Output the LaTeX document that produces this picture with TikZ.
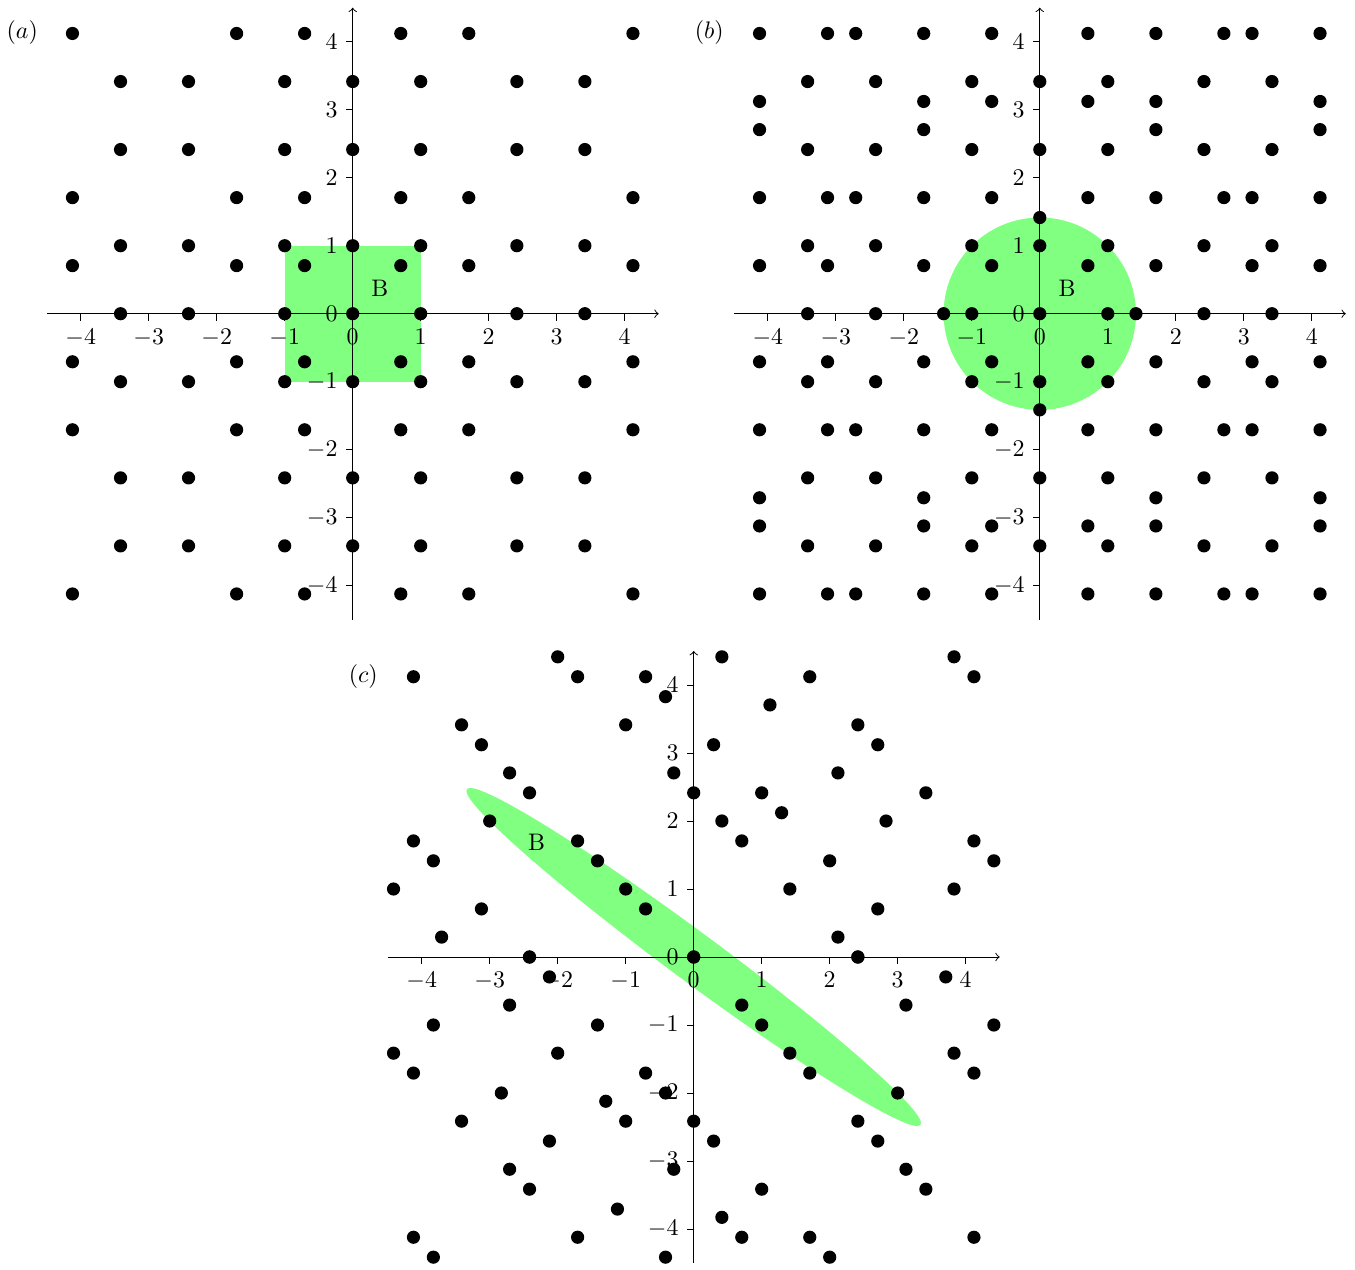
\documentclass[tikz,border=0pt]{standalone}
\begin{document}
\begin{tikzpicture}[
  dot/.style={fill=black},
  window/.style={fill=green!50},
  panellabel/.style={inner sep=0pt},
  wlabel/.style={inner sep=0pt}
]
\useasboundingbox (0,0) rectangle (19.9265,-18.6618);
\newcommand{\dotr}{0.097}
\newcommand{\myaxes}{%
  \draw[->] (-4.5,0) -- (4.5,0);
  \draw[->] (0,-4.5) -- (0,4.5);
  \foreach \t in {-4,...,4} {
    \draw (\t,0) -- (\t,-0.1) node[below] {$\t$};
    \draw (0,\t) -- (-0.1,\t) node[left] {$\t$};
  }%
}
% ---------------- panel (a)
\begin{scope}[shift={(5.1868,-4.6132)}]
  \fill[window] (-1,-1) rectangle (1,1);
  \myaxes
  \node[panellabel] (la) at (-4.86,4.13) {$(a)$};
  \node[wlabel] (Ba) at (0.40,0.38) {B};
  \foreach \x in {0,1,-1,2.41421,-2.41421,3.41421,-3.41421}
    \foreach \y in {0,1,-1,2.41421,-2.41421,3.41421,-3.41421}
      \fill[dot] (\x,\y) circle (\dotr);
  \foreach \x in {0.70711,-0.70711,1.70711,-1.70711,4.12132,-4.12132}
    \foreach \y in {0.70711,-0.70711,1.70711,-1.70711,4.12132,-4.12132}
      \fill[dot] (\x,\y) circle (\dotr);
\end{scope}
% ---------------- panel (b)
\begin{scope}[shift={(15.2912,-4.6132)}]
  \fill[window] (0,0) circle (1.41421);
  \myaxes
  \node[panellabel] (lb) at (-4.86,4.13) {$(b)$};
  \node[wlabel] (Bb) at (0.40,0.38) {B};
  \foreach \x in {0,1,-1,2.41421,-2.41421,3.41421,-3.41421}
    \foreach \y in {0,1,-1,2.41421,-2.41421,3.41421,-3.41421}
      \fill[dot] (\x,\y) circle (\dotr);
  \foreach \p in {(1.41421,0),(-1.41421,0),(0,1.41421),(0,-1.41421)}
    \fill[dot] \p circle (\dotr);
  \foreach \s in {1,-1} {
    \foreach \x in {0.70711,1.70711,2.70711,3.12132,4.12132} {
      \fill[dot] (\x,{\s*4.12132}) circle (\dotr);
      \fill[dot] ({-1*\x},{\s*4.12132}) circle (\dotr);
      \fill[dot] (\x,{\s*1.70711}) circle (\dotr);
      \fill[dot] ({-1*\x},{\s*1.70711}) circle (\dotr);
    }
    \foreach \x in {0.70711,1.70711,4.12132} {
      \fill[dot] (\x,{\s*3.12132}) circle (\dotr);
      \fill[dot] ({-1*\x},{\s*3.12132}) circle (\dotr);
    }
    \foreach \x in {1.70711,4.12132} {
      \fill[dot] (\x,{\s*2.70711}) circle (\dotr);
      \fill[dot] ({-1*\x},{\s*2.70711}) circle (\dotr);
    }
    \foreach \x in {0.70711,1.70711,3.12132,4.12132} {
      \fill[dot] (\x,{\s*0.70711}) circle (\dotr);
      \fill[dot] ({-1*\x},{\s*0.70711}) circle (\dotr);
    }
  }
\end{scope}
% ---------------- panel (c)
\begin{scope}[shift={(10.2015,-14.0735)}]
  \fill[window,rotate=-36.5] (0,0) ellipse (4.15 and 0.36);
  \myaxes
  \node[panellabel] (lc) at (-4.86,4.13) {$(c)$};
  \node[wlabel] (Bc) at (-2.31,1.68) {B};
  \foreach \x/\y in {
    -4.12132/4.12132, -2/4.41421, -1.70711/4.12132, -3.41421/3.41421,
    -3.12132/3.12132, -2.70711/2.70711, -2.41421/2.41421, -0.70711/4.12132,
    0.41421/4.41421, -0.41421/3.82843, -1/3.41421, 1.12132/3.70711,
    0.29289/3.12132, -0.29289/2.70711, 0/2.41421, 1/2.41421,
    1.70711/4.12132, 3.82843/4.41421, 4.12132/4.12132, 2.41421/3.41421,
    2.70711/3.12132, 2.12132/2.70711, 3.41421/2.41421, -3/2,
    -4.12132/1.70711, -3.82843/1.41421, -4.41421/1, -3.12132/0.70711,
    -3.70711/0.29289, -2.41421/0, -1.70711/1.70711, -1.41421/1.41421,
    -1/1, -0.70711/0.70711, 0/0, 0.41421/2,
    0.70711/1.70711, 1.29289/2.12132, 1.41421/1, 2.82843/2,
    2/1.41421, 4.12132/1.70711, 4.41421/1.41421, 3.82843/1,
    2.70711/0.70711, 2.12132/0.29289, 2.41421/0} {
    \fill[dot] (\x,\y) circle (\dotr);
    \fill[dot] ({-1*\x},{-1*\y}) circle (\dotr);
  }
\end{scope}
\end{tikzpicture}
\end{document}
